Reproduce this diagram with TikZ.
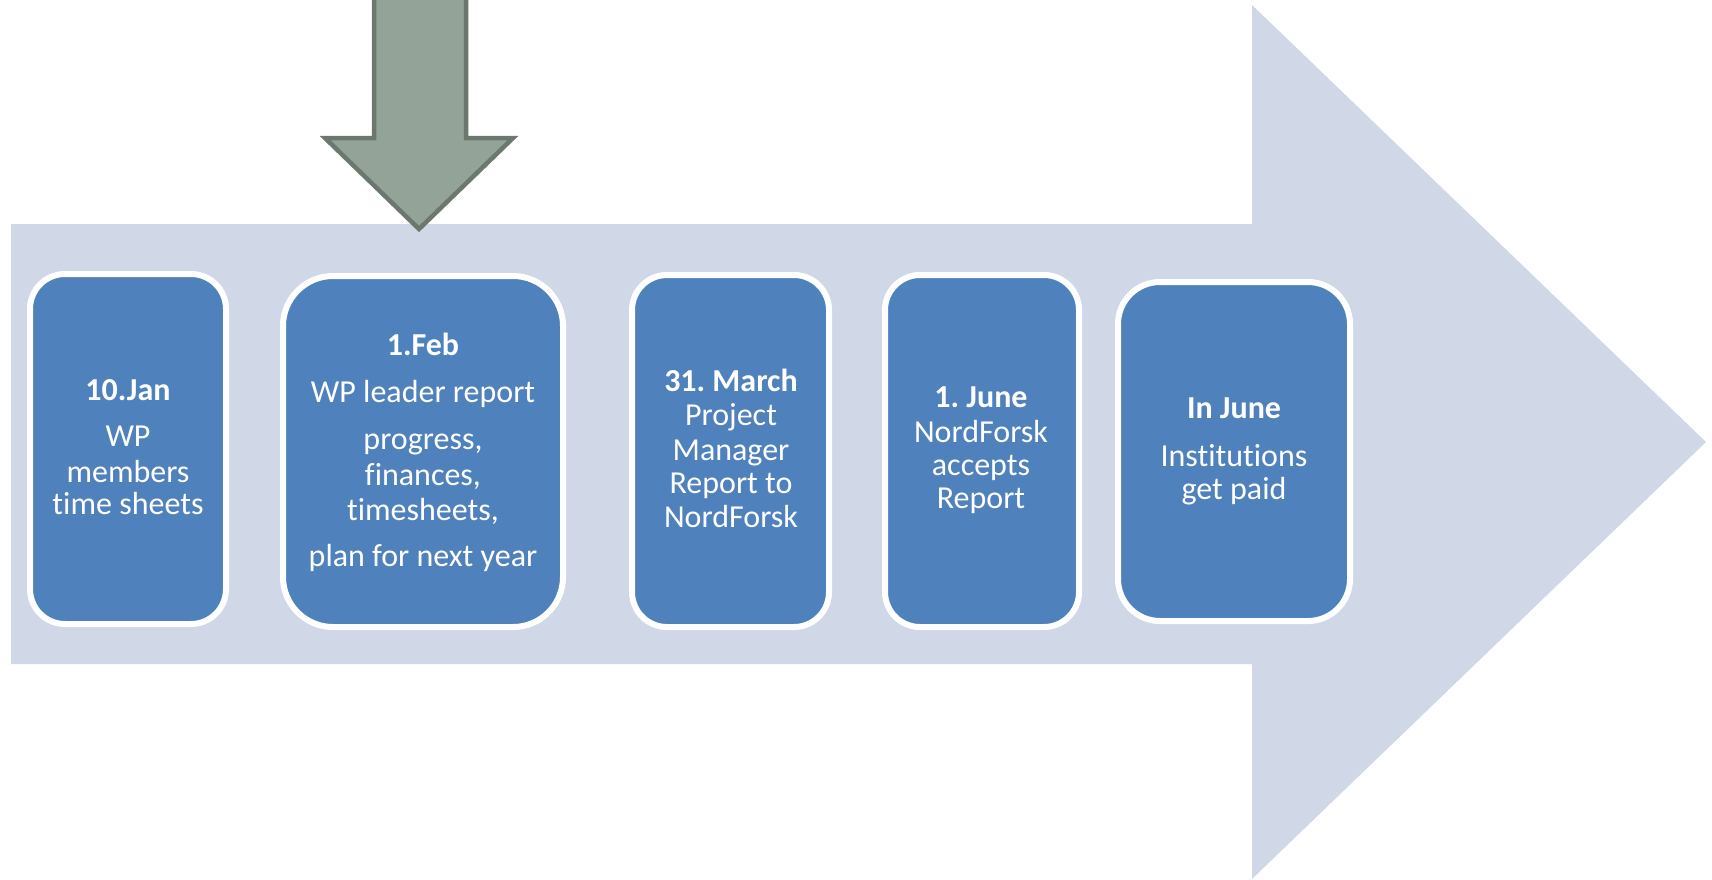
\documentclass[tikz,border=0pt]{standalone}
\usepackage{fontspec}
\setmainfont{Carlito}[RawFeature={-liga;-clig;-dlig}]
\frenchspacing
\definecolor{arrowbg}{HTML}{D0D8E8}
\definecolor{boxblue}{HTML}{4F81BD}
\definecolor{greenfill}{HTML}{93A398}
\definecolor{greenline}{HTML}{6C786E}
\tikzset{
  stepbox/.style={draw=white, line width=6pt, fill=boxblue, inner sep=0pt},
  txt/.style={anchor=base, text=white, inner sep=0pt, font=\fontsize{32}{34}\selectfont},
  ttl/.style={txt, font=\fontsize{32}{34}\selectfont\bfseries},
}
\begin{document}
\begin{tikzpicture}[x=1pt, y=-1pt]
\useasboundingbox (0,0) rectangle (1712,879);
\clip (0,0) rectangle (1712,879);
% big timeline arrow
\fill[arrowbg] (11,224) -- (1252,224) -- (1252,5) -- (1706,442) -- (1252,879) -- (1252,664) -- (11,664) -- cycle;
% green down arrow
\draw[fill=greenfill, draw=greenline, line width=4.5pt, line join=miter]
  (374,-20) -- (374,138) -- (325,138) -- (419,229) -- (513,138) -- (466,138) -- (466,-20) -- cycle;
% boxes
\node[stepbox, rounded corners=35pt, minimum width=196pt, minimum height=350pt] (b1) at (128,449) {};
\node[stepbox, rounded corners=50pt, minimum width=280pt, minimum height=351pt] (b2) at (423,451.5) {};
\node[stepbox, rounded corners=35pt, minimum width=197pt, minimum height=352pt] (b3) at (730.5,451) {};
\node[stepbox, rounded corners=35pt, minimum width=194pt, minimum height=352pt] (b4) at (982,451) {};
\node[stepbox, rounded corners=42pt, minimum width=232pt, minimum height=339pt] (b5) at (1234,451.5) {};
% box 1 text
\node[ttl] (t1a) at (128,400) {10.Jan};
\node[txt] (t1b) at (128,446) {WP};
\node[txt] (t1c) at (128,482) {members};
\node[txt] (t1d) at (128,514) {time sheets};
% box 2 text
\node[ttl] (t2a) at (423,355) {1.Feb};
\node[txt] (t2b) at (423,402) {WP leader report};
\node[txt] (t2c) at (423,449) {progress,};
\node[txt] (t2d) at (423,485) {finances,};
\node[txt] (t2e) at (423,520) {timesheets,};
\node[txt] (t2f) at (423,566) {plan for next year};
% box 3 text
\node[ttl] (t3a) at (731,391) {31. March};
\node[txt] (t3b) at (731,425) {Project};
\node[txt] (t3c) at (731,460) {Manager};
\node[txt] (t3d) at (731,493) {Report to};
\node[txt] (t3e) at (731,527) {NordForsk};
% box 4 text
\node[ttl] (t4a) at (981,407) {1. June};
\node[txt] (t4b) at (981,442) {NordForsk};
\node[txt] (t4c) at (981,475) {accepts};
\node[txt] (t4d) at (981,508) {Report};
% box 5 text
\node[ttl] (t5a) at (1234,418) {In June};
\node[txt] (t5b) at (1234,466) {Institutions};
\node[txt] (t5c) at (1234,499) {get paid};
\end{tikzpicture}
\end{document}
